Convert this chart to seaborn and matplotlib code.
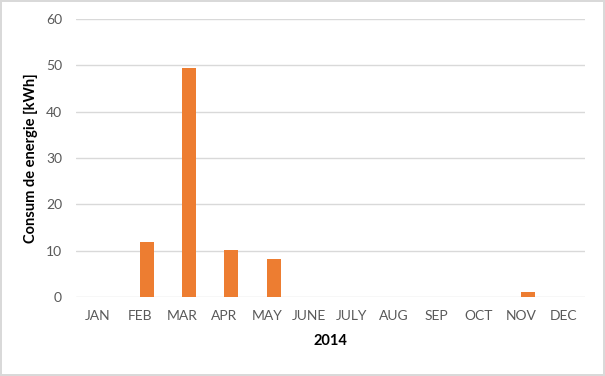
import matplotlib
matplotlib.use("Agg")
import matplotlib.pyplot as plt
import seaborn as sns
import pandas as pd

# data
months = ["JAN", "FEB", "MAR", "APR", "MAY", "JUNE", "JULY", "AUG", "SEP", "OCT", "NOV", "DEC"]
# excel chart has an empty first series, so the visible bars sit right of centre
empty_series = [0] * 12
consum = [0, 11.9, 49.5, 10.1, 8.2, 0, 0, 0, 0, 0, 1.0, 0]
y_ticks = [0, 10, 20, 30, 40, 50, 60]

BAR_COLOR = "#ED7D31"
GRID_COLOR = "#D9D9D9"
TEXT_COLOR = "#595959"

sns.set_style("white")
plt.rcParams["font.family"] = ["Lato", "DejaVu Sans"]

df = pd.DataFrame({
    "month": months * 2,
    "consum": empty_series + consum,
    "serie": ["empty"] * 12 + ["2014"] * 12,
})

fig = plt.figure(figsize=(6.05, 3.76), dpi=100, edgecolor=GRID_COLOR, linewidth=1.5)
ax = fig.add_axes([76 / 605, 1 - 297 / 376, 509 / 605, 278 / 376])

sns.barplot(data=df, x="month", y="consum", hue="serie",
            palette={"empty": BAR_COLOR, "2014": BAR_COLOR}, saturation=1,
            width=0.66, linewidth=0, ax=ax, zorder=3, legend=False)

ax.set_ylim(0, 60)
ax.set_xlim(-0.5, 11.5)
ax.set_yticks(y_ticks)
ax.yaxis.grid(True, color=GRID_COLOR, linewidth=1, zorder=0)
ax.set_axisbelow(True)
for s in ax.spines.values():
    s.set_visible(False)
ax.tick_params(axis="both", length=0, labelsize=10, labelcolor=TEXT_COLOR)
ax.tick_params(axis="x", pad=9)
ax.tick_params(axis="y", pad=10)

ax.set_xlabel("2014", fontsize=10.5, fontweight="bold", color="black", labelpad=9)
ax.set_ylabel("Consum de energie [kWh]", fontsize=10.5, fontweight="bold", color="black", labelpad=6)

fig.savefig("out.png", dpi=100)
